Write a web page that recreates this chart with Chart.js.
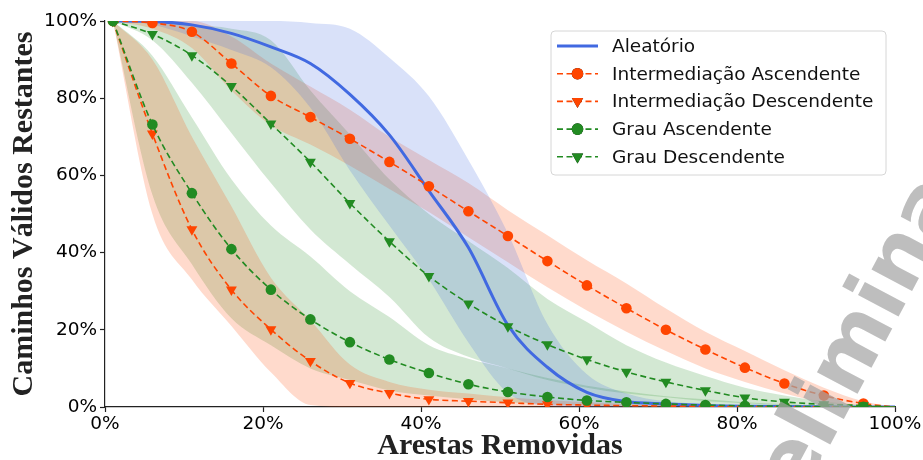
<!DOCTYPE html>
<html>
<head>
<meta charset="utf-8">
<script src="https://cdn.jsdelivr.net/npm/chart.js@4.4.1/dist/chart.umd.min.js"></script>
<style>
  html, body { margin: 0; padding: 0; background: #fff; }
  #wrap { width: 923px; height: 460px; }
</style>
</head>
<body>
<div id="wrap"><canvas id="chart" width="923" height="460"></canvas></div>
<script>
// % de arestas removidas (marcadores a cada 5%)
const xs = [1, 6, 11, 16, 21, 26, 31, 36, 41, 46, 51, 56, 61, 66, 71, 76, 81, 86, 91, 96, 100];

// Aleatório
const aleatorio    = [100, 99.9, 99, 96.8, 93.3, 89, 81, 70.5, 56, 41.3, 21.2, 10.3, 3.8, 1.4, 0.8, 0.4, 0.2, 0.1, 0.05, 0, 0];
const aleatorioMax = [100, 100, 100, 100, 100, 99.5, 98, 90.5, 80.5, 64, 45, 21.5, 8.5, 3.5, 1.5, 0.8, 0.4, 0.2, 0.1, 0, 0];
const aleatorioMin = [100, 99, 96, 92.5, 88, 77.5, 61.3, 47, 33, 16.7, 3.6, 0.3, 0, 0, 0, 0, 0, 0, 0, 0, 0];

// Intermediação Ascendente
const interAsc    = [100, 99.5, 97.2, 89, 80.6, 75.1, 69.5, 63.5, 57.2, 50.7, 44.3, 37.8, 31.5, 25.6, 20, 14.9, 10.2, 6.1, 2.95, 0.9, 0];
const interAscMax = [100, 100, 100, 96, 89, 83, 77, 70, 64, 58, 51, 44.5, 38, 32, 25.5, 19.5, 14.5, 9.5, 5, 1.5, 0];
const interAscMin = [100, 98, 93, 82, 73, 68, 62.5, 56.5, 50.5, 44, 37.5, 31, 25, 19.5, 14.5, 10, 6.5, 3.5, 1.2, 0.3, 0];

// Intermediação Descendente
const interDesc    = [100, 70.8, 46, 30.4, 20.1, 11.9, 6.2, 3.6, 2.0, 1.5, 1.1, 0.7, 0.5, 0.35, 0.25, 0.15, 0.1, 0.05, 0.03, 0.01, 0];
const interDescMax = [100, 90, 70, 52, 33.5, 22.5, 11, 6.5, 4.5, 3.5, 2.5, 1.8, 1.2, 0.8, 0.5, 0.3, 0.2, 0.1, 0.05, 0, 0];
const interDescMin = [100, 50, 33, 21, 9, 0.5, 0, 0, 0, 0, 0, 0, 0, 0, 0, 0, 0, 0, 0, 0, 0];

// Grau Ascendente
const grauAsc    = [100, 73.2, 55.4, 40.9, 30.4, 22.7, 16.8, 12.3, 8.8, 5.9, 3.9, 2.6, 1.7, 1.2, 0.8, 0.5, 0.3, 0.2, 0.1, 0.05, 0];
const grauAscMax = [100, 91, 75, 59, 47, 39, 30, 23.3, 16, 12.5, 10, 7.5, 5.5, 4, 2.8, 2, 1.2, 0.7, 0.4, 0.1, 0];
const grauAscMin = [100, 55, 37, 23, 16, 10, 7, 4.3, 3, 2, 1.2, 0.7, 0.4, 0.2, 0.1, 0.05, 0, 0, 0, 0, 0];

// Grau Descendente
const grauDesc    = [100, 96.6, 91.1, 83.1, 73.4, 63.5, 52.8, 42.9, 33.9, 26.8, 20.9, 16.2, 12.3, 9.1, 6.5, 4.3, 2.4, 1.3, 0.7, 0.4, 0];
const grauDescMax = [100, 100, 99, 98, 95, 82, 70.6, 59, 50, 43, 36, 28, 22, 16, 11.5, 8, 5, 3, 1.5, 0.5, 0];
const grauDescMin = [100, 95, 84, 71, 58, 46, 37, 28.5, 18, 13, 10, 7, 5, 3.5, 2.5, 1.5, 1, 0.5, 0.3, 0.1, 0];

const rotulos = ['Aleatório', 'Intermediação Ascendente', 'Intermediação Descendente', 'Grau Ascendente', 'Grau Descendente'];
const ticksEixo = [0, 20, 40, 60, 80, 100];

const AZUL = 'rgb(65,105,225)';
const LARANJA = 'rgb(255,69,0)';
const VERDE = 'rgb(34,139,34)';
const faixa = (c) => c.replace('rgb', 'rgba').replace(')', ',0.2)');
const DASH = [6, 3.5];

function pts(arr) {
    return xs.map((x, i) => ({ x: x, y: arr[i] }));
}

function banda(max, min, cor) {
    return [
        { data: pts(max), fill: '+1', backgroundColor: faixa(cor), borderWidth: 0, borderColor: 'transparent', pointRadius: 0, order: 10 },
        { data: pts(min), fill: false, borderWidth: 0, borderColor: 'transparent', pointRadius: 0, order: 10 }
    ];
}

function linha(arr, cor, forma, ordem) {
    return {
        data: pts(arr),
        borderColor: cor,
        borderWidth: 1.6,
        borderDash: DASH,
        pointStyle: forma,
        pointRotation: forma === 'triangle' ? 180 : 0,
        pointRadius: xs.map(x => x === 100 ? 0 : (forma === 'triangle' ? 6.3 : 5.3)),
        pointBackgroundColor: cor,
        pointBorderColor: cor,
        pointBorderWidth: 0,
        fill: false,
        order: ordem
    };
}

const datasets = [
    ...banda(aleatorioMax, aleatorioMin, AZUL),
    ...banda(interAscMax, interAscMin, LARANJA),
    ...banda(interDescMax, interDescMin, LARANJA),
    ...banda(grauAscMax, grauAscMin, VERDE),
    ...banda(grauDescMax, grauDescMin, VERDE),
    { data: pts(aleatorio), borderColor: AZUL, borderWidth: 3, pointRadius: 0, fill: false, order: 5 },
    linha(interAsc, LARANJA, 'circle', 4),
    linha(interDesc, LARANJA, 'triangle', 3),
    linha(grauAsc, VERDE, 'circle', 2),
    linha(grauDesc, VERDE, 'triangle', 1)
];

// legenda desenhada à mão (linha tracejada + marcador)
const estilosLegenda = [
    { cor: AZUL, dash: [], largura: 3, marcador: null },
    { cor: LARANJA, dash: DASH, largura: 1.6, marcador: 'circle' },
    { cor: LARANJA, dash: DASH, largura: 1.6, marcador: 'triangle' },
    { cor: VERDE, dash: DASH, largura: 1.6, marcador: 'circle' },
    { cor: VERDE, dash: DASH, largura: 1.6, marcador: 'triangle' }
];

const legendaPlugin = {
    id: 'legendaManual',
    afterDraw(chart) {
        const ctx = chart.ctx;
        ctx.save();
        const bx = 551, by = 31, bw = 335, bh = 144, r = 4;
        ctx.beginPath();
        ctx.moveTo(bx + r, by);
        ctx.arcTo(bx + bw, by, bx + bw, by + bh, r);
        ctx.arcTo(bx + bw, by + bh, bx, by + bh, r);
        ctx.arcTo(bx, by + bh, bx, by, r);
        ctx.arcTo(bx, by, bx + bw, by, r);
        ctx.closePath();
        ctx.fillStyle = 'rgba(255,255,255,0.8)';
        ctx.fill();
        ctx.strokeStyle = '#d6d6d6';
        ctx.lineWidth = 1;
        ctx.stroke();

        ctx.font = '18.5px "DejaVu Sans"';
        ctx.textBaseline = 'middle';
        rotulos.forEach((txt, i) => {
            const e = estilosLegenda[i];
            const y = 46 + i * 27.7;
            ctx.strokeStyle = e.cor;
            ctx.lineWidth = e.largura;
            ctx.setLineDash(e.dash);
            ctx.beginPath();
            ctx.moveTo(557, y);
            ctx.lineTo(598, y);
            ctx.stroke();
            ctx.setLineDash([]);
            if (e.marcador) {
                Chart.helpers.drawPoint(ctx, {
                    pointStyle: e.marcador,
                    rotation: e.marcador === 'triangle' ? 180 : 0,
                    radius: e.marcador === 'triangle' ? 6.6 : 5.8,
                    borderWidth: 0
                }, 577.5, y);
                ctx.fillStyle = e.cor;
                ctx.fill();
            }
            ctx.fillStyle = '#111';
            ctx.fillText(txt, 612, y + 1);
        });
        ctx.restore();
    }
};

// marca d'água
const marcaDagua = {
    id: 'marcaDagua',
    afterDraw(chart) {
        const ctx = chart.ctx;
        ctx.save();
        ctx.translate(752, 592);
        ctx.rotate(-62 * Math.PI / 180);
        ctx.font = 'bold 84px "DejaVu Sans"';
        ctx.fillStyle = 'rgba(165,165,165,0.72)';
        ctx.textBaseline = 'alphabetic';
        ctx.fillText('Preliminar', 0, 0);
        ctx.restore();
    }
};

const fonteTick = { family: '"DejaVu Sans"', size: 18.5 };
const fonteTitulo = { family: '"Liberation Serif", "Times New Roman", serif', size: 30, weight: 'bold', lineHeight: 1 };

new Chart(document.getElementById('chart'), {
    type: 'line',
    data: { datasets: datasets },
    options: {
        responsive: false,
        animation: false,
        devicePixelRatio: 1,
        events: [],
        layout: { padding: { top: 21, right: 28, left: 0, bottom: 0 } },
        elements: { line: { cubicInterpolationMode: 'monotone' } },
        plugins: {
            legend: { display: false },
            tooltip: { enabled: false },
            filler: { drawTime: 'beforeDatasetsDraw' }
        },
        scales: {
            x: {
                type: 'linear',
                min: 0,
                max: 100,
                afterBuildTicks: (s) => { s.ticks = ticksEixo.map(v => ({ value: v })); },
                afterFit: (s) => { s.height = 53; },
                ticks: { callback: v => v + '%', font: fonteTick, color: '#000', padding: 1, maxRotation: 0 },
                grid: { drawOnChartArea: false, drawTicks: true, tickLength: 5, tickWidth: 1.2, tickColor: '#222' },
                border: { display: true, color: '#222', width: 1.2 },
                title: { display: true, text: 'Arestas Removidas', font: fonteTitulo, color: '#222', padding: { top: 0, bottom: -1 } }
            },
            y: {
                type: 'linear',
                min: 0,
                max: 100,
                afterBuildTicks: (s) => { s.ticks = ticksEixo.map(v => ({ value: v })); },
                afterFit: (s) => { s.width = 105; },
                ticks: { callback: v => v + '%', font: fonteTick, color: '#000', padding: 3 },
                grid: { drawOnChartArea: false, drawTicks: true, tickLength: 5, tickWidth: 1.2, tickColor: '#222' },
                border: { display: true, color: '#222', width: 1.2 },
                title: { display: true, text: 'Caminhos Válidos Restantes', font: fonteTitulo, color: '#222', padding: { top: 9, bottom: 0 } }
            }
        }
    },
    plugins: [legendaPlugin, marcaDagua]
});
</script>
</body>
</html>
